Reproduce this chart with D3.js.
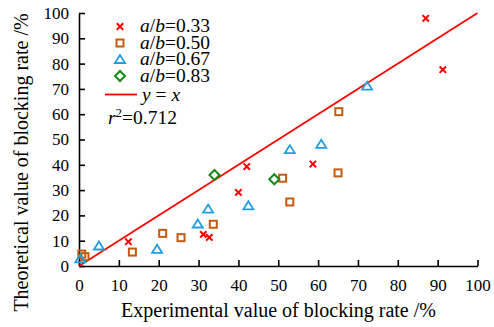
<!DOCTYPE html>
<html>
<head>
<meta charset="utf-8">
<script src="https://cdn.jsdelivr.net/npm/d3@7"></script>
<style>
  body { margin: 0; background: #fff; }
</style>
</head>
<body>
<div id="chart"></div>
<script>
// [experimental, theoretical] blocking rate in %, one list per a/b ratio
var ratio033 = [[87.0, 97.9], [91.3, 77.6], [58.7, 40.3], [42.1, 39.3],
                [40.0, 29.1], [31.2, 12.5], [32.7, 11.3], [12.4, 9.6]];
var ratio050 = [[65.2, 61.0], [51.1, 34.7], [52.9, 25.3], [65.0, 36.8],
                [33.7, 16.5], [21.0, 12.9], [25.6, 11.2], [13.4, 5.5],
                [0.7, 4.7], [1.5, 3.7]];
var ratio067 = [[72.3, 71.1], [52.9, 46.0], [60.8, 48.1], [42.5, 23.8],
                [32.4, 22.5], [29.8, 16.6], [19.6, 6.6], [5.0, 7.9], [0.3, 2.8]];
var ratio083 = [[34.0, 36.0], [49.0, 34.3]];
var seriesNames = ['0.33', '0.50', '0.67', '0.83'];
var xTicks = [0, 10, 20, 30, 40, 50, 60, 70, 80, 90, 100];
var yTicks = [0, 10, 20, 30, 40, 50, 60, 70, 80, 90, 100];
var fitLine = [[0, 0], [100, 100]];
var rSquared = '0.712';

var serifFont = '"Liberation Serif", "Times New Roman", Times, "DejaVu Serif", serif';

var width = 494, height = 327,
    margin = { top: 13, right: 16.5, bottom: 61, left: 79 };

var svg = d3.select('#chart')
            .append('svg')
              .attr('width', width)
              .attr('height', height)
              .style('font-family', serifFont);

var x = d3.scaleLinear().domain([0, 100]).range([margin.left, width - margin.right]);
var y = d3.scaleLinear().domain([0, 100]).range([height - margin.bottom, margin.top]);

var series = [
  { data: ratio033, shape: 'cross',    color: '#ff0000' },
  { data: ratio050, shape: 'square',   color: '#c55a11' },
  { data: ratio067, shape: 'triangle', color: '#1f9fe0' },
  { data: ratio083, shape: 'diamond',  color: '#138a13' }
];

// draws one marker at (cx, cy)
function marker(g, shape, color, cx, cy) {
  if (shape === 'cross') {
    var s = 3.2;
    g.append('path')
     .attr('d', 'M' + (cx - s) + ',' + (cy - s) + 'L' + (cx + s) + ',' + (cy + s) +
                'M' + (cx - s) + ',' + (cy + s) + 'L' + (cx + s) + ',' + (cy - s))
     .attr('stroke', color).attr('stroke-width', 2).attr('fill', 'none');
  } else if (shape === 'square') {
    g.append('rect')
     .attr('x', cx - 3.5).attr('y', cy - 3.5)
     .attr('width', 7).attr('height', 7)
     .attr('fill', 'none').attr('stroke', color).attr('stroke-width', 2);
  } else if (shape === 'triangle') {
    g.append('path')
     .attr('d', 'M' + cx + ',' + (cy - 4.5) + 'L' + (cx + 5) + ',' + (cy + 3.5) +
                'L' + (cx - 5) + ',' + (cy + 3.5) + 'Z')
     .attr('fill', 'none').attr('stroke', color).attr('stroke-width', 1.8);
  } else {
    g.append('path')
     .attr('d', 'M' + cx + ',' + (cy - 5) + 'L' + (cx + 5) + ',' + cy +
                'L' + cx + ',' + (cy + 5) + 'L' + (cx - 5) + ',' + cy + 'Z')
     .attr('fill', 'none').attr('stroke', color).attr('stroke-width', 2);
  }
}

// axes, ticks pointing inward
var xAxis = svg.append('g')
  .attr('transform', 'translate(0,' + y(0) + ')')
  .call(d3.axisBottom(x).tickValues(xTicks).tickSizeInner(-6).tickSizeOuter(0).tickPadding(13));
var yAxis = svg.append('g')
  .attr('transform', 'translate(' + x(0) + ',0)')
  .call(d3.axisLeft(y).tickValues(yTicks).tickSizeInner(-6).tickSizeOuter(0).tickPadding(10));

[xAxis, yAxis].forEach(function(a) {
  a.attr('font-family', serifFont).attr('font-size', 17);
  a.selectAll('path, line').attr('stroke', '#000').attr('stroke-width', 1.6);
  a.selectAll('text').attr('fill', '#000');
});

// y = x line
svg.append('path')
   .attr('d', d3.line().x(function(d) { return x(d[0]); }).y(function(d) { return y(d[1]); })(fitLine))
   .attr('stroke', '#ff0000').attr('stroke-width', 1.8).attr('fill', 'none');

var points = svg.append('g');
series.forEach(function(s) {
  s.data.forEach(function(d) {
    marker(points, s.shape, s.color, x(d[0]), y(d[1]));
  });
});

// axis titles
svg.append('text')
   .attr('x', 278.5)
   .attr('y', 317)
   .attr('text-anchor', 'middle')
   .attr('font-size', 20)
   .text('Experimental value of blocking rate /%');
svg.append('text')
   .attr('transform', 'translate(28,162.5) rotate(-90)')
   .attr('text-anchor', 'middle')
   .attr('font-size', 20)
   .text('Theoretical value of blocking rate /%');

// legend
var legend = svg.append('g').attr('font-size', 19.5);
var rowY = [26.5, 43, 59.5, 76];
series.forEach(function(s, i) {
  marker(legend, s.shape, s.color, 120, rowY[i]);
  legend.append('text').attr('x', 140).attr('y', rowY[i] + 5.5)
        .html('<tspan font-style="italic">a</tspan>/<tspan font-style="italic">b</tspan>=' + seriesNames[i]);
});
legend.append('line')
      .attr('x1', 105).attr('x2', 137).attr('y1', 94.5).attr('y2', 94.5)
      .attr('stroke', '#ff0000').attr('stroke-width', 1.8);
legend.append('text').attr('x', 142).attr('y', 100.5)
      .html('<tspan font-style="italic">y</tspan> = <tspan font-style="italic">x</tspan>');
legend.append('text').attr('x', 108).attr('y', 124)
      .html('<tspan font-style="italic">r</tspan><tspan dy="-7" font-size="13">2</tspan><tspan dy="7">=' + rSquared + '</tspan>');
</script>
</body>
</html>
